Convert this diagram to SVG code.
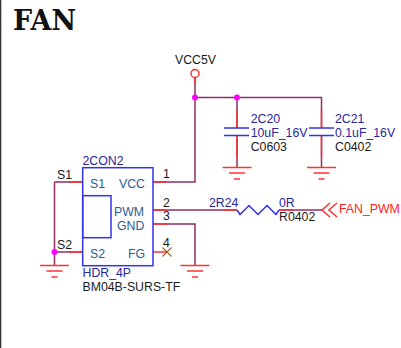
<svg xmlns="http://www.w3.org/2000/svg" width="401" height="348" viewBox="0 0 401 348">
<style>
text{font-family:"Liberation Sans",Arial,sans-serif;font-size:12.300px;fill:#1a1a1a}
text.t{font-family:"DejaVu Serif",serif;font-size:28.500px;font-weight:bold;fill:#111}
.r{fill:#27279b}.p{fill:#2a5c96}.f{fill:#ff2020}
.w{fill:none;stroke:#8f2f63;stroke-width:1.5}
.s{fill:none;stroke:#ff3030;stroke-width:1.5}
.b{fill:none;stroke:#3333ee;stroke-width:1.5}
.d{fill:#ff00ff}
</style>
<defs>
<g id="gnd" class="s"><path d="M-14.500 0H14.500M-8 5.500H8M-3 11.500H3"/></g>
</defs>
<rect x="0" y="0" width="1.300" height="348" fill="#333"/>
<text class="t" x="13" y="30" textLength="63" lengthAdjust="spacingAndGlyphs">FAN</text>
<g id="connectors">
<path class="w" d="M195 77V97.500H321.500V128M237 97.500V128M237 136V167.500M321.500 136V167.500"/>
<path class="w" d="M153 182H195V97.500M54.500 182H82M54.500 182V265.500M54.500 252H82M153 210H237M279 210H322M153 224H195V265.500"/>
<path class="s" d="M195 77V83M237 110V128M237 136V158M321.500 110V128M321.500 136V158"/>
<path class="s" d="M153 182H167M69 182H82M69 252H82M153 210H167M223 210H237M279 210H293M153 224H167M153 252H167"/>
<circle class="d" cx="195" cy="97.500" r="3"/>
<circle class="d" cx="237" cy="97.500" r="3"/>
<circle class="d" cx="54.500" cy="252" r="3"/>
</g>
<g id="vcc5v">
<circle cx="195" cy="73.500" r="4" fill="#fff" stroke="#ff2020" stroke-width="1.300"/>
<text x="175" y="64">VCC5V</text>
</g>
<g id="c20">
<path class="b" d="M224 128H249M224 135.500H249"/>
<text class="r" x="250.700" y="123">2C20</text>
<text class="r" x="250.700" y="137">10uF_16V</text>
<text x="250.700" y="151">C0603</text>
<use href="#gnd" x="237" y="167.500"/>
</g>
<g id="c21">
<path class="b" d="M309 128H334M309 135.500H334"/>
<text class="r" x="335" y="123">2C21</text>
<text class="r" x="335" y="137">0.1uF_16V</text>
<text x="335" y="151">C0402</text>
<use href="#gnd" x="321.500" y="167.500"/>
</g>
<g id="con2">
<rect class="b" x="82.700" y="167.700" width="70.300" height="98"/>
<rect class="b" x="82.700" y="195.700" width="28.300" height="42"/>
<text class="r" x="82.500" y="165">2CON2</text>
<text class="p" x="90" y="188">S1</text>
<text class="p" x="119" y="188">VCC</text>
<text class="p" x="114" y="216">PWM</text>
<text class="p" x="117" y="230">GND</text>
<text class="p" x="90" y="258">S2</text>
<text class="p" x="128" y="258">FG</text>
<text class="r" x="82.500" y="277">HDR_4P</text>
<text x="82.500" y="291">BM04B-SURS-TF</text>
<text x="57" y="179">S1</text>
<text x="57" y="249">S2</text>
<text x="163" y="178">1</text>
<text x="163" y="206.500">2</text>
<text x="163" y="220">3</text>
<text x="163" y="247">4</text>
<path d="M162.500 247.500L171.500 256.500M162.500 256.500L171.500 247.500" fill="none" stroke="#a8602a" stroke-width="1.100"/>
<use href="#gnd" x="54.500" y="265.500"/>
<use href="#gnd" x="195" y="265.500"/>
</g>
<g id="r24">
<path class="b" d="M237 210L240 214.500L249 205.500L258 214.500L267 205.500L276 214.500L279 210"/>
<text class="r" x="209" y="206.500">2R24</text>
<text class="r" x="279" y="206.500">0R</text>
<text x="279" y="220.500">R0402</text>
</g>
<g id="fan-pwm">
<path class="s" d="M330 203L322 210L330 217M337 203L329 210L337 217"/>
<text class="f" x="339" y="213">FAN_PWM</text>
</g>
</svg>
